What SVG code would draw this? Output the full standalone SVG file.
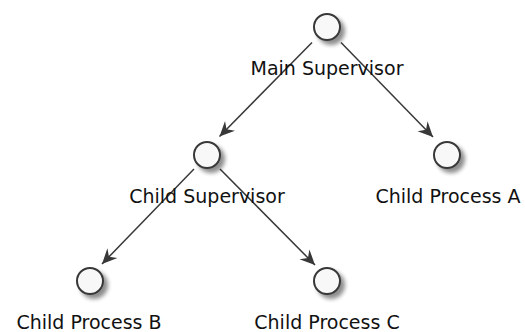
<svg xmlns="http://www.w3.org/2000/svg" width="525" height="332" viewBox="0 0 525 332">
  <defs>
    <filter id="shadow" x="-50%" y="-50%" width="200%" height="200%">
      <feGaussianBlur in="SourceAlpha" stdDeviation="2.2"/>
      <feOffset dx="4" dy="4" result="blur"/>
      <feComponentTransfer><feFuncA type="linear" slope="0.45"/></feComponentTransfer>
      <feMerge><feMergeNode/><feMergeNode in="SourceGraphic"/></feMerge>
    </filter>
    <marker id="arrow" markerUnits="userSpaceOnUse" viewBox="-16 -8 17 16" refX="0" refY="0" markerWidth="17" markerHeight="16" orient="auto">
      <path d="M0,0 L-15,-7 L-10,0 L-15,7 Z" fill="#383838"/>
    </marker>
  </defs>
  <style>
    .node circle { fill: #F8F8F8; stroke: #383838; stroke-width: 2; filter: url(#shadow); }
    .node text { font-family: "DejaVu Sans", Verdana, sans-serif; font-size: 19px; fill: #111; text-anchor: middle; }
    .edge { stroke: #383838; stroke-width: 1.5; fill: none; marker-end: url(#arrow); }
  </style>

  <g id="connectors">
    <line class="edge" x1="312" y1="42.5" x2="219.5" y2="136.5"/>
    <line class="edge" x1="341" y1="42.5" x2="433" y2="137"/>
    <line class="edge" x1="194" y1="169" x2="102" y2="264"/>
    <line class="edge" x1="220" y1="169" x2="315" y2="265"/>
  </g>

  <g id="main-supervisor" class="node">
    <circle cx="327" cy="27" r="13"/>
    <text x="327" y="75">Main Supervisor</text>
  </g>
  <g id="child-supervisor" class="node">
    <circle cx="207" cy="155" r="13"/>
    <text x="207" y="203">Child Supervisor</text>
  </g>
  <g id="child-process-a" class="node">
    <circle cx="447" cy="155" r="13"/>
    <text x="448" y="203">Child Process A</text>
  </g>
  <g id="child-process-b" class="node">
    <circle cx="90" cy="281" r="13"/>
    <text x="89" y="329">Child Process B</text>
  </g>
  <g id="child-process-c" class="node">
    <circle cx="327" cy="281" r="13"/>
    <text x="327" y="329">Child Process C</text>
  </g>
</svg>
